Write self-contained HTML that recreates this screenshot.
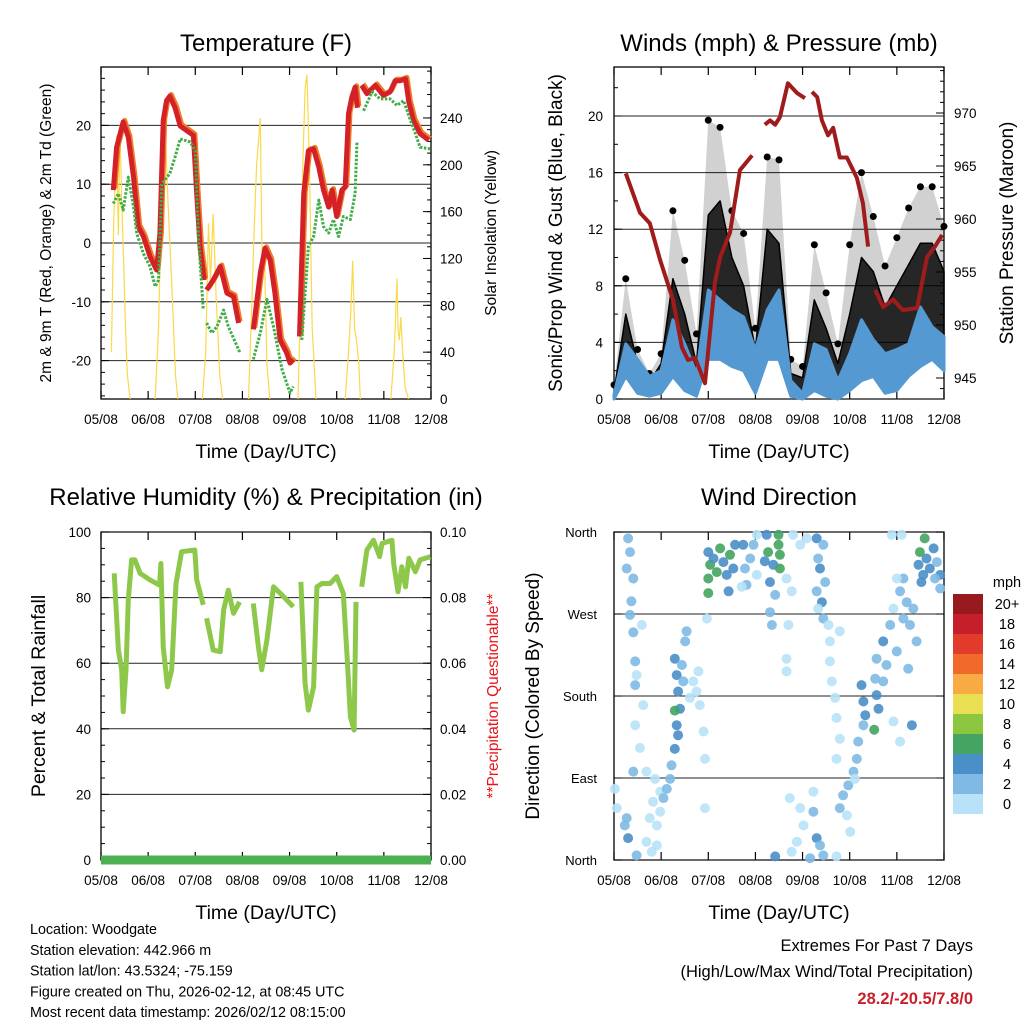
<!DOCTYPE html>
<html><head><meta charset="utf-8"><style>
html,body{margin:0;padding:0;background:#fff}
svg{display:block;font-family:"Liberation Sans",sans-serif}
</style></head><body>
<svg id="c" width="1024" height="1024" viewBox="0 0 1024 1024" xmlns="http://www.w3.org/2000/svg"></svg>
<script>
// ---------- DATA ----------
const dayLabels = ["05/08","06/08","07/08","08/08","09/08","10/08","11/08","12/08"];
const tempTicks = [-20,-10,0,10,20];
const solarTicks = [0,40,80,120,160,200,240];
const windTicks = [0,4,8,12,16,20];
const presTicks = [945,950,955,960,965,970];
const rhTicks = [0,20,40,60,80,100];
const rainTicks = ["0.00","0.02","0.04","0.06","0.08","0.10"];
const dirLabels = ["North","East","South","West","North"];
const speedBins = ["0","2","4","6","8","10","12","14","16","18","20+"];

const tT = [0.26,0.33,0.47,0.58,0.69,0.79,0.90,1.04,1.18,1.25,1.32,1.39,1.46,1.57,1.68,1.82,1.96,2.03,2.10,2.19,null,2.24,2.38,2.53,2.67,2.81,2.92,null,3.23,3.38,3.48,3.59,3.69,3.80,3.94,4.01,4.08,null,4.21,4.30,4.40,4.51,4.62,4.72,4.83,4.90,5.00,5.11,5.18,5.25,5.32,5.39,5.44,null,5.53,5.64,5.82,5.99,6.13,6.24,6.35,6.46,6.53,6.63,6.77,6.95];
const tempRed = [9,16.3,20.6,18,11.2,2.8,1.1,-2.3,-4.6,1.6,20.8,24.2,25,23,19.9,19.1,18.3,8.4,-0.6,-6.3,null,-8,-6.3,-4,-8.5,-9.1,-13.6,null,-14.7,-5.1,-0.9,-2.9,-8.5,-16.5,-18.7,-20.4,-19.8,null,-15.9,8.4,15.7,16,12.9,9,6.1,9,4.5,9,9.5,22,24.8,26.5,23,null,26.8,25.4,26.8,25.1,25.7,27.6,27.6,27.9,24,20.8,18.6,17.5];
const tD = [0.26,0.37,0.47,0.58,0.69,0.76,0.90,1.04,1.15,1.22,1.29,1.46,1.57,1.68,1.89,2.00,2.07,2.17,null,2.24,2.35,2.46,2.60,2.70,2.95,null,3.23,3.38,3.52,3.66,3.84,4.01,4.08,null,4.26,4.40,4.51,4.62,4.72,4.83,4.93,5.04,5.14,5.29,5.39,5.43,null,5.57,5.75,5.92,6.13,6.28,6.42,6.56,6.67,6.77,6.98];
const dewGreen = [6.7,8.4,5.6,11.2,6.2,1.6,-1.8,-4,-7.4,-6.3,10.1,11.8,14.6,17.7,17.2,15.7,0.5,-11.4,null,-13.6,-15.3,-14.2,-11.4,-14.2,-18.7,null,-19.8,-15.3,-9.6,-14.2,-21.5,-25.5,-24.4,null,-16.5,-0.6,1.1,7.3,2.8,1.7,4,1.1,4.5,4,8.4,17.2,null,22.5,25.7,24.5,24.5,23.4,24.2,21,18.6,16.3,16];
const tS = [0.22,0.27,0.33,0.37,0.40,0.44,0.48,0.52,0.56,0.62,null,1.15,1.22,1.30,1.36,1.42,1.50,1.58,1.63,null,2.15,2.22,2.28,2.32,2.38,2.44,2.52,2.58,null,3.13,3.20,3.25,3.30,3.38,3.42,3.47,3.52,3.58,null,4.18,4.22,4.28,4.33,4.37,4.42,4.48,4.56,null,5.18,5.25,5.30,5.34,5.38,5.42,5.47,5.50,null,6.15,6.22,6.28,6.30,6.33,6.36,6.40,6.45,6.52];
const solar = [40,150,225,140,234,170,120,60,20,0,null,0,60,200,234,170,100,20,0,null,0,40,150,100,158,90,20,0,null,0,80,146,200,240,110,120,30,0,null,0,60,200,265,277,200,60,0,null,0,40,75,118,60,50,30,0,null,0,40,103,60,50,70,40,10,0];

const tW = [0,0.25,0.5,0.75,1,1.25,1.5,1.75,2,2.25,2.5,2.75,3,3.25,3.5,3.75,4,4.25,4.5,4.75,5,5.25,5.5,5.75,6,6.25,6.5,6.75,7];
const windHi = [0.3,3.9,2.8,1.6,2.0,5.6,3.9,1.8,7.7,7.0,6.3,5.8,3.5,6.3,7.7,1.3,0.4,3.9,3.5,1.3,3.2,5.6,4.2,3.2,3.5,3.9,6.5,5.1,4.4];
const windLo = [0,1.6,0.4,0.2,0.4,1.6,0.6,0.2,2.8,2.8,2.3,2.0,0.4,2.8,2.8,0.2,0,0.6,0.2,0,0.6,1.3,1.6,0.4,0.6,1.6,2.3,2.8,2.0];
const gustHi = [1.0,8.5,3.5,1.8,3.2,13.3,9.8,4.6,19.7,19.2,13.3,11.7,5,17.1,16.9,2.8,2.3,10.9,7.5,3.9,10.9,16,12.9,9.4,11.4,13.5,15,15,12.2];
const gustDense = [0.5,6,2.5,1.2,2.5,8.5,6,2.5,13,14,10,8,3.5,12,11,1.8,1.5,7,5,2.5,6,10,9,6.5,8,9.5,11,11,9];
const gustLo = [0,3,1,0.5,1,4,2.5,1,6,5.5,4.5,4,1,5,5,0.3,0.3,2.5,2,0.5,2,4,3.5,2.5,3,4,5,4.5,4];
const tP = [0.25,0.55,0.76,0.98,1.25,1.44,1.57,1.72,1.93,2.14,2.25,2.46,2.67,2.93,null,3.20,3.31,3.42,3.52,3.69,3.88,4.05,null,4.20,4.31,4.41,4.54,4.65,4.79,4.94,5.15,5.28,5.39,null,5.54,5.71,5.92,6.13,6.43,6.64,6.81,6.96];
const pressure = [964.3,960.6,959.6,956.1,952.4,947.9,946.7,946.9,944.5,954.0,956.4,958.7,964.6,966.0,null,968.9,969.3,968.9,969.6,972.8,971.9,971.4,null,972.0,971.5,969.3,967.9,968.6,965.8,965.8,963.9,961.5,957.4,null,953.3,951.7,952.4,951.4,951.6,956.4,957.4,958.5];

const tR = [0.28,0.37,0.44,0.47,0.53,0.58,0.65,0.72,0.83,1.04,1.24,1.27,1.32,1.41,1.50,1.59,1.71,1.99,2.03,2.17,null,2.24,2.38,2.53,2.60,2.70,2.81,2.94,null,3.23,3.34,3.41,3.52,3.66,3.84,4.08,null,4.24,4.33,4.40,4.51,4.58,4.69,4.86,5.00,5.14,5.22,5.29,5.37,5.41,null,5.53,5.64,5.78,5.91,5.96,6.17,6.21,6.30,6.38,6.46,6.53,6.67,6.77,6.99];
const rh = [87.4,64,58,45.2,58,79.3,91.5,91.5,87.4,85.4,83.8,90.4,65,52.8,58,84.3,94,94.5,85.4,77.8,null,73.7,64,63.5,76.2,82.3,75.2,78.7,null,78.2,65,58,67,83.3,80.8,77.2,null,84.8,53.8,45.7,52.8,83.3,84.3,84.3,86.4,81.3,62,43.7,39.6,78.7,null,83.3,94.5,97.5,92.5,96.5,97.5,90.4,81.8,89.4,83.3,92,87.9,91.5,92.5];
const rainT = [0,7];
const rain = [0,0];

const dirT = [0.30,0.34,0.27,0.41,0.37,0.34,0.41,0.59,0.45,0.48,0.45,0.62,0.45,0.55,0.41,0.69,0.87,0.27,0.30,0.48,0.02,0.06,0.23,
0.69,0.76,0.83,0.98,0.91,0.80,1.05,1.12,1.19,1.22,0.98,0.91,
1.29,1.33,1.36,1.40,1.33,1.36,1.29,1.44,1.51,1.54,1.47,1.29,1.68,1.75,1.82,1.61,1.90,1.79,1.93,1.97,1.93,
2.00,2.04,2.00,2.11,2.18,2.25,2.32,2.39,2.46,2.53,2.43,2.57,2.00,2.74,2.78,2.89,3.03,2.96,2.81,2.71,3.03,
3.24,3.27,3.38,3.49,3.52,3.31,3.42,3.31,3.35,3.52,3.20,3.49,
3.66,3.77,3.70,3.66,3.66,3.95,4.09,3.80,
4.30,4.44,4.33,4.37,4.48,4.30,4.41,4.33,4.44,
4.55,4.58,4.58,4.62,4.69,4.72,4.79,4.72,4.79,
3.73,3.95,4.02,3.88,3.77,4.23,4.30,4.37,4.44,4.16,3.42,4.23,4.72,
4.79,4.86,4.94,4.97,5.01,5.08,5.15,5.18,5.11,
5.25,5.29,5.33,5.29,5.57,5.61,5.54,5.71,5.52,5.93,6.07,6.32,
5.57,5.71,5.86,5.93,5.78,6.00,6.14,6.21,6.28,6.35,6.42,6.07,6.14,6.00,6.24,6.10,5.89,
6.49,6.59,6.63,6.70,6.56,6.78,6.85,6.92,6.52,6.81,6.92,6.46];
const dirDeg = [353,338,320,309,284,269,250,258,218,203,192,170,148,123,97,97,89,46,24,5,78,57,38,
20,46,64,75,38,9,68,78,89,104,53,16,
221,203,185,166,148,137,122,214,240,251,196,164,196,185,170,178,141,207,111,265,57,
338,324,309,331,316,342,327,313,335,320,295,346,293,346,320,331,313,346,302,300,357,
357,338,324,346,335,305,291,272,258,320,328,357,
309,295,258,221,207,346,353,357,
353,346,331,320,305,295,283,276,265,
258,240,218,196,178,156,133,111,251,
68,57,38,20,9,75,24,16,5,2,4,53,4,
57,71,49,82,31,97,111,130,89,
192,174,159,148,181,166,199,196,143,152,130,148,
221,240,258,276,214,229,265,283,258,276,240,295,309,309,210,357,357,
338,353,331,320,313,342,327,313,305,309,298,324];
const dirSpd = [2,2,3,2,2,3,2,1,3,1,3,1,1,1,3,1,1,3,4,2,1,1,2,
1,1,1,1,1,1,2,3,3,3,1,1,
4,5,4,4,4,4,4,3,3,2,3,6,1,1,1,1,1,1,1,1,1,
4,7,6,5,6,7,5,4,6,4,4,5,6,4,3,2,1,2,2,1,1,
4,6,4,6,7,4,3,2,2,6,5,6,
1,1,1,1,1,1,1,1,
4,3,2,4,2,2,4,1,2,
1,1,1,1,1,1,1,1,1,
1,1,1,1,1,1,4,3,2,2,4,2,1,
2,2,1,3,1,2,3,2,1,
4,4,4,3,4,4,3,3,6,1,1,4,
3,4,2,1,2,2,3,3,3,2,3,2,2,1,3,1,1,
6,6,4,4,4,4,3,4,4,3,2,5];

// ---------- DRAWING ----------
const svg = document.getElementById('c');
const NS = 'http://www.w3.org/2000/svg';
function mk(tag, attrs, parent){const e=document.createElementNS(NS,tag);for(const k in attrs)e.setAttribute(k,attrs[k]);(parent||svg).appendChild(e);return e;}
function txt(s,x,y,size,anchor,fill,extra,parent){const e=mk('text',Object.assign({x:x,y:y,'font-size':size,'text-anchor':anchor||'middle',fill:fill||'#000'},extra||{}),parent);e.textContent=s;return e;}
function linePath(ts,vs,xf,yf){let d='',pen=false;for(let i=0;i<ts.length;i++){if(ts[i]===null||vs[i]===null){pen=false;continue;}d+=(pen?'L':'M')+xf(ts[i]).toFixed(1)+','+yf(vs[i]).toFixed(1);pen=true;}return d;}

const P1={l:101,r:431,t:67,b:399}, P2={l:614,r:944,t:67,b:399}, P3={l:101,r:431,t:532,b:860}, P4={l:614,r:944,t:532,b:860};
const DAY=47.14;
const x1=d=>P1.l+d*DAY, x2=d=>P2.l+d*DAY;
const yT=v=>243-v*5.88, yS=s=>399-s*1.171;
const yW=v=>399-v*14.15, yP=p=>378-(p-945)*10.6;
const yR=r=>860-r*3.28, yRain=r=>860-r*3280;
const yD=g=>860-g*0.911;

function frame(P,name){
  const g=mk('g',{});
  
  
  mk('rect',{x:P.l,y:P.t,width:P.r-P.l,height:P.b-P.t,fill:'none',stroke:'#000','stroke-width':1.3},g);
  for(let i=0;i<dayLabels.length;i++){
    const x=P.l+i*DAY;
    mk('line',{x1:x,y1:P.b,x2:x,y2:P.b-8,stroke:'#000','stroke-width':1.2},g);
    mk('line',{x1:x,y1:P.t,x2:x,y2:P.t+8,stroke:'#000','stroke-width':1.2},g);
    const t=txt(dayLabels[i],x,P.b+25,13.5,'middle','#000',{},g);
    
    
  }
  const xt=txt('Time (Day/UTC)',(P.l+P.r)/2,P.b+59,19.5,'middle','#000',{},g);
  
  
  return g;
}
function hgrid(P,y,g){mk('line',{x1:P.l,y1:y,x2:P.r,y2:y,stroke:'#222','stroke-width':1},g);}
function tick(x,y,len,g){mk('line',{x1:x,y1:y,x2:x+len,y2:y,stroke:'#000','stroke-width':1},g);}
function vtitle(s,x,y,size,fill,name){const t=txt(s,x,y,size,'middle',fill||'#000',{transform:'rotate(-90 '+x+' '+y+')'});}
function title(s,x,y,name){const t=txt(s,x,y,24,'middle');}

// ===== Panel 1: Temperature =====
title('Temperature (F)',266,51,'temperature-title');
const g1=frame(P1,'temperature-panel');
for(let v=-26;v<=28;v+=2){const y=yT(v);if(y<P1.t||y>P1.b)continue;tick(P1.l,y,4,g1);}
for(let s=0;s<=280;s+=10){const y=yS(s);if(y<P1.t)continue;tick(P1.r,y,-4,g1);}
tempTicks.forEach(v=>{const y=yT(v);hgrid(P1,y,g1);tick(P1.l,y,8,g1);txt(String(v),91,y+5,13.5,'end','#000',{},g1);});
solarTicks.forEach(s=>{const y=yS(s);tick(P1.r,y,-8,g1);txt(String(s),440,y+5,13.5,'start','#000',{},g1);});
const solEl=mk('path',{d:linePath(tS,solar,x1,yS),fill:'none',stroke:'#fbd94a','stroke-width':1.2});


const orEl=mk('path',{d:linePath(tT,tempRed,d=>x1(d)+1.5,v=>yT(v)-1.5),fill:'none',stroke:'#f07c2a','stroke-width':5,'stroke-linejoin':'round'});


const redEl=mk('path',{d:linePath(tT,tempRed,x1,yT),fill:'none',stroke:'#d42027','stroke-width':5,'stroke-linejoin':'round'});


const dewEl=mk('path',{d:linePath(tD,dewGreen,x1,yT),fill:'none',stroke:'#41ad49','stroke-width':3,'stroke-dasharray':'2.5 1.5','stroke-linejoin':'round'});


vtitle('2m & 9m T (Red, Orange) & 2m Td (Green)',51,233,15.5,'#000','temperature-y-axis-title');
vtitle('Solar Insolation (Yellow)',496,233,15.5,'#000','solar-y-axis-title');

// ===== Panel 2: Winds =====
title('Winds (mph) & Pressure (mb)',779,51,'winds-title');
const g2=frame(P2,'winds-panel');
for(let v=0;v<=23;v+=2){tick(P2.l,yW(v),4,g2);}
for(let p=943;p<=974;p++){const y=yP(p);if(y<P2.t||y>P2.b)continue;tick(P2.r,y,-4,g2);}
windTicks.forEach(v=>{const y=yW(v);hgrid(P2,y,g2);tick(P2.l,y,8,g2);txt(String(v),603,y+5,13.5,'end','#000',{},g2);});
presTicks.forEach(p=>{const y=yP(p);tick(P2.r,y,-8,g2);txt(String(p),954,y+5,13.5,'start','#000',{},g2);});
function band(ts,lo,hi,xf,yf){let d='';for(let i=0;i<ts.length;i++)d+=(i?'L':'M')+xf(ts[i]).toFixed(1)+','+yf(hi[i]).toFixed(1);for(let i=ts.length-1;i>=0;i--)d+='L'+xf(ts[i]).toFixed(1)+','+yf(lo[i]).toFixed(1);return d+'Z';}
const gustOuter=mk('path',{d:band(tW,gustDense,gustHi,x2,yW),fill:'#000','fill-opacity':0.18,stroke:'none'});


const gustEl=mk('path',{d:band(tW,gustLo,gustDense,x2,yW),fill:'#000','fill-opacity':0.85,stroke:'#000','stroke-width':1.5,'stroke-linejoin':'round'});


for(let i=0;i<tW.length;i++){
  const c=mk('circle',{cx:x2(tW[i]),cy:yW(gustHi[i]),r:3.5,fill:'#000'});
  
  
}
const windEl=mk('path',{d:band(tW,windLo,windHi,x2,yW),fill:'#5599d2',stroke:'#5599d2','stroke-width':3,'stroke-linejoin':'round'});


const presEl=mk('path',{d:linePath(tP,pressure,x2,yP),fill:'none',stroke:'#a01c1c','stroke-width':4,'stroke-linejoin':'round'});


vtitle('Sonic/Prop Wind & Gust (Blue, Black)',562,233,19,'#000','wind-y-axis-title');
vtitle('Station Pressure (Maroon)',1013,233,19,'#000','pressure-y-axis-title');

// ===== Panel 3: RH =====
title('Relative Humidity (%) & Precipitation (in)',266,505,'humidity-title');
const g3=frame(P3,'humidity-panel');
for(let r=0;r<=100;r+=5){tick(P3.l,yR(r),4,g3);tick(P3.r,yR(r),-4,g3);}
rhTicks.forEach((r,i)=>{const y=yR(r);hgrid(P3,y,g3);tick(P3.l,y,8,g3);tick(P3.r,y,-8,g3);txt(String(r),91,y+5,13.5,'end','#000',{},g3);txt(rainTicks[i],440,y+5,13.5,'start','#000',{},g3);});
const rhEl=mk('path',{d:linePath(tR,rh,x1,yR),fill:'none',stroke:'#8dc84b','stroke-width':5,'stroke-linejoin':'round'});


const rainEl=mk('path',{d:linePath(rainT,rain,x1,yRain),fill:'none',stroke:'#4caf50','stroke-width':9});


vtitle('Percent & Total Rainfall',45,696,19.5,'#000','humidity-y-axis-title');
vtitle('**Precipitation Questionable**',498,696,15.5,'#e8141a','precipitation-y-axis-title');

// ===== Panel 4: Wind Direction =====
title('Wind Direction',779,505,'wind-direction-title');
const g4=frame(P4,'wind-direction-panel');
dirLabels.forEach((s,i)=>{const y=yD(i*90);hgrid(P4,y,g4);tick(P4.l,y,8,g4);tick(P4.r,y,-8,g4);txt(s,597,y+5,13,'end','#000',{},g4);});
const binColors=['#b8e2f7','#7fbae4','#4a8fc8','#44a461','#8cc63f','#e8df52','#f9ab43','#f26a2b','#e23a2b','#c41f2a','#981a1f'];
for(let i=0;i<dirT.length;i++){
  const b=Math.min(10,Math.floor(dirSpd[i]/2));
  const c=mk('circle',{cx:x2(dirT[i]).toFixed(1),cy:yD(dirDeg[i]).toFixed(1),r:5,fill:binColors[b],'fill-opacity':0.9});
  
  
}
vtitle('Direction (Colored By Speed)',539,696,19,'#000','direction-y-axis-title');

// colorbar
const cb=mk('g',{});


txt('mph',1007,587,14.5,'middle','#000',{},cb);
for(let i=0;i<speedBins.length;i++){
  const k=speedBins.length-1-i;
  mk('rect',{x:953,y:594+i*20,width:30,height:20,fill:binColors[k]},cb);
  txt(speedBins[k],1007,609+i*20,14.5,'middle','#000',{},cb);
}

// footer text
const info=['Location: Woodgate','Station elevation: 442.966 m','Station lat/lon: 43.5324; -75.159','Figure created on Thu, 2026-02-12, at 08:45 UTC','Most recent data timestamp: 2026/02/12 08:15:00'];
info.forEach((s,i)=>{const t=txt(s,30,934+i*20.8,14.3,'start');});
let e=txt('Extremes For Past 7 Days',973,951,16.5,'end');


e=txt('(High/Low/Max Wind/Total Precipitation)',973,977,16.5,'end');


e=txt('28.2/-20.5/7.8/0',973,1004,16.5,'end','#c8202b',{'font-weight':'bold'});


</script>
</body></html>
